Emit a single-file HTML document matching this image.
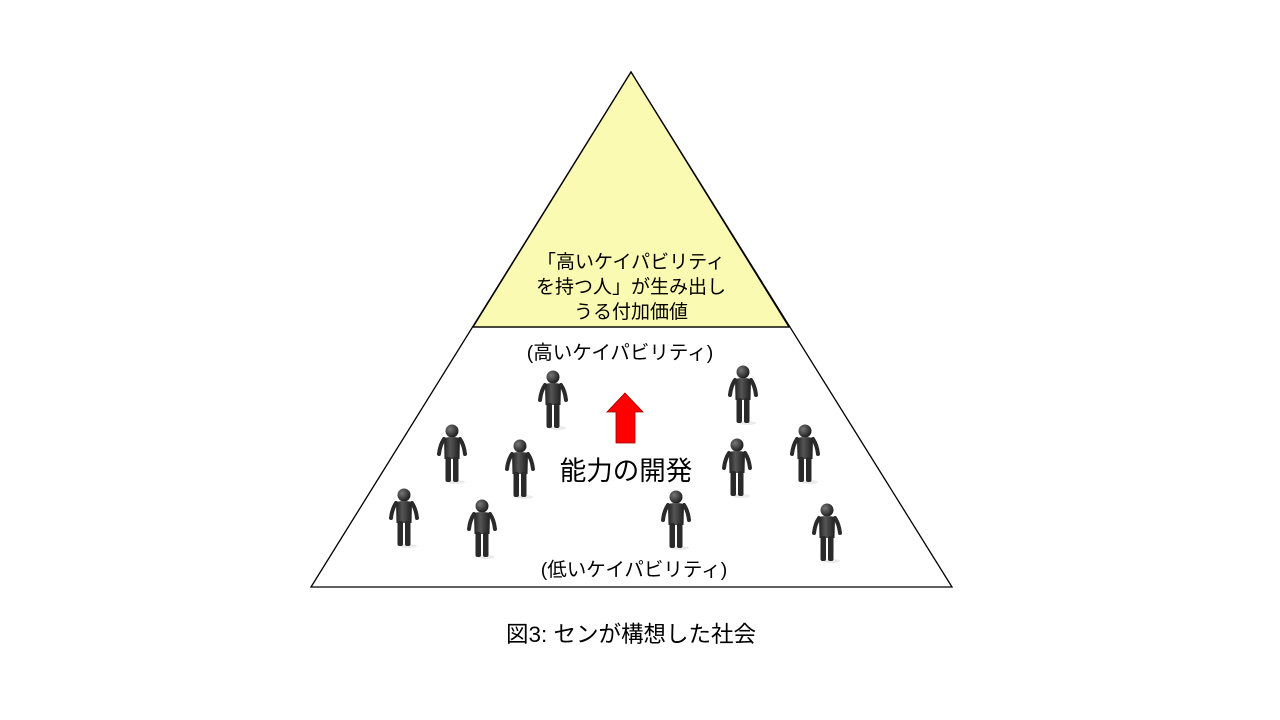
<!DOCTYPE html>
<html><head><meta charset="utf-8"><style>
html,body{margin:0;padding:0;background:#fff;}
svg{display:block;}
text{font-family:"Liberation Sans","Noto Sans CJK JP",sans-serif;fill:#000;}
</style></head><body>
<svg width="1280" height="720" viewBox="0 0 1280 720" xmlns="http://www.w3.org/2000/svg">
<defs>
<radialGradient id="hg" cx="0.35" cy="0.35" r="0.7"><stop offset="0" stop-color="#777"/><stop offset="1" stop-color="#1a1a1a"/></radialGradient>
<linearGradient id="bg" x1="0" x2="1"><stop offset="0" stop-color="#222"/><stop offset="0.4" stop-color="#555"/><stop offset="1" stop-color="#1e1e1e"/></linearGradient>
<g id="p">
<ellipse cx="4" cy="57" rx="9" ry="2" fill="#ddd" opacity="0.6"/>
<circle cx="0" cy="6" r="6.5" fill="url(#hg)"/>
<path d="M-8,13 Q0,11 8,13 L7.5,34 L-7.5,34 Z" fill="url(#bg)"/>
<path d="M-8,14 Q-12,20 -13,29" stroke="#2a2a2a" stroke-width="4" fill="none" stroke-linecap="round"/>
<path d="M8,14 Q12,20 13,29" stroke="#2a2a2a" stroke-width="4" fill="none" stroke-linecap="round"/>
<rect x="-6.5" y="32" width="5.5" height="25" rx="2" fill="#2a2a2a"/>
<rect x="1" y="32" width="5.5" height="25" rx="2" fill="#2a2a2a"/>
</g>
</defs>
<polygon points="631,72 952,587 311,587" fill="#fff" stroke="#000" stroke-width="1.3"/>
<polygon points="631,72 789,327 473,327" fill="#fafab2" stroke="#000" stroke-width="1.3"/>
<line x1="473" y1="327" x2="789" y2="327" stroke="#000" stroke-width="1.3"/>
<g font-size="19" text-anchor="middle">
<text x="631" y="268">「高いケイパビリティ</text>
<text x="631" y="293">を持つ人」が生み出し</text>
<text x="631" y="318">うる付加価値</text>
</g>
<text x="620" y="359" font-size="19.5" text-anchor="middle">(高いケイパビリティ)</text>
<text x="634" y="576" font-size="19.5" text-anchor="middle">(低いケイパビリティ)</text>
<text x="626" y="480" font-size="26.5" text-anchor="middle">能力の開発</text>
<polygon points="625,393 643,412 635,412 635,443 616,443 616,412 607,412" fill="#f00" stroke="#900" stroke-width="0.8"/>
<use href="#p" x="553" y="371"/>
<use href="#p" x="743" y="366"/>
<use href="#p" x="452" y="425"/>
<use href="#p" x="520" y="440"/>
<use href="#p" x="737" y="439"/>
<use href="#p" x="805" y="425"/>
<use href="#p" x="404" y="489"/>
<use href="#p" x="482" y="500"/>
<use href="#p" x="676" y="491"/>
<use href="#p" x="827" y="504"/>
<text x="631" y="642" font-size="22.5" text-anchor="middle">図3: センが構想した社会</text>
</svg>
</body></html>
